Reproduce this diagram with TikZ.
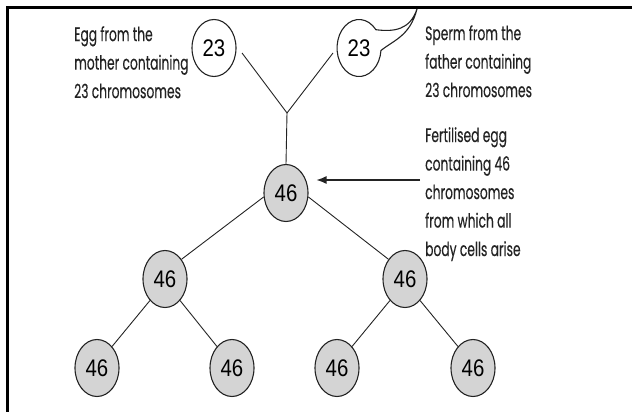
\documentclass[tikz,border=0pt]{standalone}
\usepackage{fontspec}
\setmainfont{Poppins}[FakeStretch=0.63,FakeBold=0.3]
\newfontfamily\numfont{Liberation Sans}[FakeStretch=0.85]
\usetikzlibrary{shapes.geometric,arrows.meta}
\definecolor{cellgray}{RGB}{212,212,212}
\definecolor{ink}{RGB}{35,35,35}
\begin{document}
\begin{tikzpicture}[x=1pt,y=-1pt,
  cell/.style={ellipse,draw=ink,line width=1.1pt,minimum width=44pt,minimum height=57pt,inner sep=0pt,font=\numfont\fontsize{24}{24}\selectfont},
  gamete/.style={cell,fill=white},
  body/.style={cell,fill=cellgray},
  link/.style={draw=ink,line width=0.9pt},
  label/.style={align=left,anchor=north west,inner sep=0pt,font=\fontsize{19.5}{28.5}\selectfont,text=ink}]
\useasboundingbox (0,0) rectangle (632,412);
% frame (top and left edges)
\draw[line width=3.5pt] (7.5,412) -- (7.5,7.5) -- (632,7.5);
% gametes
\node[gamete] (egg) at (214,48) {23};
\node[cell,draw=none] (sperm) at (359,48) {23};
\draw[ink,line width=1.1pt] (375.9,29.7) arc[start angle=-40,end angle=-355,x radius=22,y radius=28.5]
  .. controls (394,40) and (410,36) .. (417,9)
  .. controls (410,30) and (394,32) .. cycle;
% zygote and body cells
\node[body] (zyg) at (286,193) {46};
\node[body] (L) at (165,279) {46};
\node[body] (R) at (405,279) {46};
\node[body] (LL) at (97,368) {46};
\node[body] (LR) at (232,368) {46};
\node[body] (RL) at (337,368) {46};
\node[body] (RR) at (473,368) {46};
% fusion lines
\coordinate (j) at (287,113);
\coordinate (eggend) at (242,53);
\coordinate (spermend) at (333,53);
\draw[link] (eggend) -- (j) -- (spermend);
\draw[link] (j) -- (zyg.north);
% tree
\draw[link] (zyg.190) -- (L.50);
\draw[link] (zyg.-10) -- (R.130);
\draw[link] (L.235) -- (LL.55);
\draw[link] (L.-55) -- (LR.125);
\draw[link] (R.235) -- (RL.55);
\draw[link] (R.-55) -- (RR.125);
% arrow
\coordinate (arrowstart) at (420,180);
\draw[link,line width=1.2pt,-{Latex[length=10pt,width=8pt]},shorten >=8pt] (arrowstart) -- (zyg.east |- arrowstart);
% labels
\node[label] (eggtxt) at (74,26) {Egg from the\\mother containing\\23 chromosomes};
\node[label] (spermtxt) at (425,25) {Sperm from the\\father containing\\23 chromosomes};
\node[label] (zygtxt) at (425,127) {Fertilised egg\\containing 46\\chromosomes\\from which all\\body cells arise};
\end{tikzpicture}
\end{document}
